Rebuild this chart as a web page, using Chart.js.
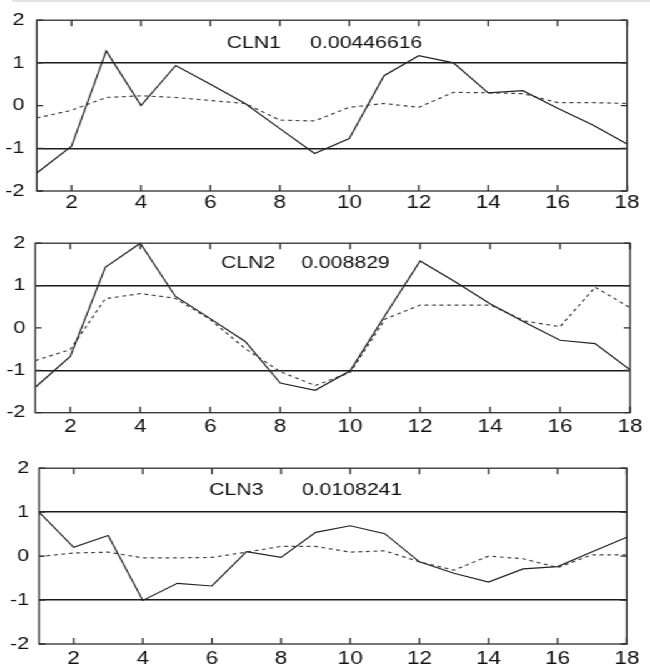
<!DOCTYPE html>
<html>
<head>
<meta charset="utf-8">
<script src="https://cdn.jsdelivr.net/npm/chart.js@4.4.1/dist/chart.umd.min.js"></script>
<style>
  html, body { margin: 0; padding: 0; background: #fff; }
  #page { position: relative; width: 650px; height: 671px; overflow: hidden; }
  #topline { position: absolute; left: 12px; top: 0; width: 638px; height: 2px; background: #e4e4e4; }
  /* the plots are laid out 520px wide and widened to 650px, which gives the broad lettering */
  #wide { position: absolute; left: 0; top: 0; width: 520px; height: 671px; transform: scaleX(1.25); transform-origin: 0 0; }
  .panel { position: absolute; left: 0; width: 520px; }
</style>
</head>
<body>
<div id="page">
  <div id="topline"></div>
  <div id="wide">
    <div class="panel" style="top:0;height:225px"><canvas id="cln1"></canvas></div>
    <div class="panel" style="top:225px;height:225px"><canvas id="cln2"></canvas></div>
    <div class="panel" style="top:450px;height:221px"><canvas id="cln3"></canvas></div>
  </div>
</div>
<script>
// time points 1..18
const timePoints = [1, 2, 3, 4, 5, 6, 7, 8, 9, 10, 11, 12, 13, 14, 15, 16, 17, 18];
const xTicks = [2, 4, 6, 8, 10, 12, 14, 16, 18];
const yTicks = [-2, -1, 0, 1, 2];

const geneNames = ["CLN1", "CLN2", "CLN3"];
const geneScores = ["0.00446616", "0.008829", "0.0108241"];

// measured profiles (solid) and fitted profiles (dashed)
const cln1Measured = [-1.58, -0.95, 1.28, 0.0, 0.94, 0.5, 0.05, -0.54, -1.12, -0.77, 0.7, 1.17, 1.0, 0.3, 0.35, -0.06, -0.45, -0.9];
const cln1Fitted = [-0.29, -0.11, 0.19, 0.23, 0.19, 0.12, 0.05, -0.34, -0.36, -0.04, 0.05, -0.04, 0.31, 0.3, 0.28, 0.07, 0.07, 0.05];

const cln2Measured = [-1.4, -0.67, 1.43, 2.0, 0.75, 0.22, -0.32, -1.3, -1.47, -1.01, 0.3, 1.58, 1.09, 0.57, 0.13, -0.29, -0.37, -0.99];
const cln2Fitted = [-0.77, -0.51, 0.69, 0.81, 0.7, 0.2, -0.49, -1.03, -1.36, -1.05, 0.21, 0.54, 0.54, 0.54, 0.16, 0.03, 0.96, 0.48];

const cln3Measured = [1.0, 0.2, 0.47, -1.01, -0.62, -0.68, 0.1, -0.03, 0.54, 0.69, 0.51, -0.13, -0.39, -0.59, -0.29, -0.24, 0.1, 0.43];
const cln3Fitted = [-0.01, 0.07, 0.09, -0.04, -0.04, -0.03, 0.09, 0.22, 0.22, 0.09, 0.12, -0.13, -0.32, 0.0, -0.06, -0.26, 0.03, 0.03];

const FONT = "'Liberation Sans', Arial, Helvetica, sans-serif";

// box round the plot, inward tick marks and the gene caption
const framePlugin = {
  id: 'frame',
  beforeDatasetsDraw(chart, args, opts) {
    const { ctx, chartArea: a, scales: { x, y } } = chart;
    ctx.save();
    ctx.strokeStyle = '#2e2e2e';
    ctx.lineWidth = 1.3;
    ctx.strokeRect(a.left, a.top, a.width, a.height);
    ctx.beginPath();
    x.ticks.forEach(t => {
      const px = x.getPixelForValue(t.value);
      ctx.moveTo(px, a.top); ctx.lineTo(px, a.top + 6);
      ctx.moveTo(px, a.bottom); ctx.lineTo(px, a.bottom - 6);
    });
    y.ticks.forEach(t => {
      const py = y.getPixelForValue(t.value);
      ctx.moveTo(a.left, py); ctx.lineTo(a.left + 5, py);
      ctx.moveTo(a.right, py); ctx.lineTo(a.right - 5, py);
    });
    ctx.stroke();

    ctx.fillStyle = '#111';
    ctx.font = '17px ' + FONT;
    ctx.textAlign = 'left';
    ctx.textBaseline = 'middle';
    const ty = y.getPixelForValue(opts.textY);
    ctx.fillText(opts.name, x.getPixelForValue(opts.nameX), ty);
    ctx.fillText(opts.score, x.getPixelForValue(opts.scoreX), ty);
    ctx.restore();
  }
};

function makePanel(id, measured, fitted, p) {
  const toPoints = arr => timePoints.map((t, i) => ({ x: t, y: arr[i] }));
  const config = {
    type: 'line',
    data: {
      datasets: [
        {
          data: toPoints(measured),
          borderColor: '#222',
          borderWidth: 1.2,
          pointRadius: 0,
          tension: 0,
        },
        {
          data: toPoints(fitted),
          borderColor: '#404040',
          borderWidth: 1.2,
          borderDash: [3, 3],
          pointRadius: 0,
          tension: 0,
        },
      ],
    },
    options: {
      responsive: true,
      maintainAspectRatio: false,
      animation: false,
      events: [],
      layout: { padding: { top: p.top, right: p.right, bottom: 0, left: 0 } },
      plugins: {
        legend: { display: false },
        tooltip: { enabled: false },
        frame: { name: p.name, score: p.score, nameX: p.nameX, scoreX: p.scoreX, textY: p.textY },
      },
      scales: {
        x: {
          type: 'linear',
          min: 1,
          max: 18,
          afterBuildTicks: axis => { axis.ticks = xTicks.map(v => ({ value: v })); },
          afterFit: axis => { axis.height = p.xHeight; },
          grid: { display: false, drawTicks: false },
          border: { display: false },
          ticks: { color: '#111', padding: p.xPad, maxRotation: 0, autoSkip: false, font: { family: FONT, size: 18 } },
        },
        y: {
          min: -2,
          max: 2,
          afterBuildTicks: axis => { axis.ticks = yTicks.map(v => ({ value: v })); },
          afterFit: axis => { axis.width = p.left; },
          grid: {
            drawTicks: false,
            lineWidth: 1.4,
            color: c => (c.tick && Math.abs(c.tick.value) === 1 ? '#1a1a1a' : 'rgba(0,0,0,0)'),
          },
          border: { display: false },
          ticks: { color: '#111', padding: p.yPad, font: { family: FONT, size: 17 } },
        },
      },
    },
    plugins: [framePlugin],
  };
  return new Chart(document.getElementById(id), config);
}

makePanel('cln1', cln1Measured, cln1Fitted, {
  name: geneNames[0], score: geneScores[0], nameX: 6.47, scoreX: 8.87, textY: 1.45,
  top: 14, right: 18.4, left: 29.4, xHeight: 34, xPad: 1, yPad: 10,
});
makePanel('cln2', cln2Measured, cln2Fitted, {
  name: geneNames[1], score: geneScores[1], nameX: 6.31, scoreX: 8.6, textY: 1.52,
  top: 14.7, right: 16, left: 28.2, xHeight: 37.3, xPad: 4, yPad: 8,
});
makePanel('cln3', cln3Measured, cln3Fitted, {
  name: geneNames[2], score: geneScores[2], nameX: 5.92, scoreX: 8.6, textY: 1.5,
  top: 14, right: 18.6, left: 31.2, xHeight: 27, xPad: 4, yPad: 8,
});
</script>
</body>
</html>
